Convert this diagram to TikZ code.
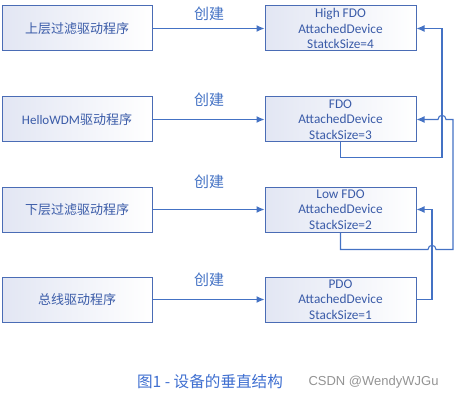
\documentclass[tikz,border=0pt]{standalone}
\usepackage{fontspec}
\setmainfont{Carlito}
\newfontfamily\cjk{Noto Sans CJK SC}
\newfontfamily\wmfont{Liberation Sans}
\usepackage{xcolor}
\definecolor{linecolor}{HTML}{4472C4}
\definecolor{bordercolor}{HTML}{4A6CB5}
\definecolor{textcolor}{HTML}{3A5BA8}
\definecolor{shadecolor}{HTML}{E2E6F3}
\definecolor{captioncolor}{HTML}{3F6FD0}
\usepackage{tikz}
\usetikzlibrary{arrows.meta, calc}

\begin{document}
\begin{tikzpicture}[x=1pt, y=-1pt,
  drvbox/.style={draw=bordercolor, line width=1pt, left color=shadecolor, right color=white, minimum width=150pt, minimum height=45pt, inner sep=0pt, text=textcolor, font=\cjk\fontsize{13}{15}\selectfont},
  objbox/.style={drvbox, minimum width=151pt, align=center, font=\fontsize{13.3}{15.7}\selectfont},
  link/.style={draw=linecolor, line width=1.1pt, -{Latex[length=8pt,width=7pt]}},
  makelabel/.style={text=linecolor, font=\cjk\fontsize{15}{15}\selectfont}]
  \useasboundingbox (0,0) rectangle (455,401);

  \node[drvbox] (upper) at (77,28.5) {上层过滤驱动程序};
  \node[drvbox] (hello) at (77,119.5) {{\rmfamily HelloWDM}驱动程序};
  \node[drvbox] (lower) at (77,209.5) {下层过滤驱动程序};
  \node[drvbox] (bus) at (77,299.5) {总线驱动程序};

  \node[objbox] (high) at (340.5,28.5) {High FDO\\AttachedDevice\\StatckSize=4};
  \node[objbox] (fdo) at (340.5,119.5) {FDO\\AttachedDevice\\StackSize=3};
  \node[objbox] (lowfdo) at (340.5,209.5) {Low FDO\\AttachedDevice\\StackSize=2};
  \node[objbox] (pdo) at (340.5,299.5) {PDO\\AttachedDevice\\StackSize=1};

  \draw[link] (upper) -- (high);
  \draw[link] (hello) -- (fdo);
  \draw[link] (lower) -- (lowfdo);
  \draw[link] (bus) -- (pdo);
  \node[makelabel] (mk1) at (209,14) {创建};
  \node[makelabel] (mk2) at (209,100) {创建};
  \node[makelabel] (mk3) at (209,182) {创建};
  \node[makelabel] (mk4) at (209,280) {创建};

  \coordinate (riserA) at (442,0);
  \coordinate (riserB) at (453,0);
  \coordinate (riserC) at (432,0);
  \path (lowfdo.south) ++(0,17) coordinate (lowturn);
  \coordinate (hopA) at (riserA |- fdo.east);
  \coordinate (hopC) at (riserC |- lowturn);

  \draw[link] (fdo.south) -- ++(0,15) -| (riserA |- high.east) -- (high.east);
  \draw[link] (lowfdo.south) -- (lowturn) -- ($(hopC)+(-4,0)$) .. controls ($(hopC)+(-4,-5.5)$) and ($(hopC)+(4,-5.5)$) .. ($(hopC)+(4,0)$) -- (riserB |- lowturn) -- (riserB |- fdo.east) -- ($(hopA)+(4,0)$) .. controls ($(hopA)+(4,-5.5)$) and ($(hopA)+(-4,-5.5)$) .. ($(hopA)+(-4,0)$) -- (fdo.east);
  \draw[link] (pdo.east) -| (riserC |- lowfdo.east) -- (lowfdo.east);

  \node[text=captioncolor, font=\cjk\fontsize{15.6}{15.6}\selectfont] (caption) at (210,382) {图1 - 设备的垂直结构};
  \node[text=gray!85, font=\wmfont\fontsize{13}{13}\selectfont] (mark) at (373.5,382) {CSDN @WendyWJGu};
\end{tikzpicture}
\end{document}
